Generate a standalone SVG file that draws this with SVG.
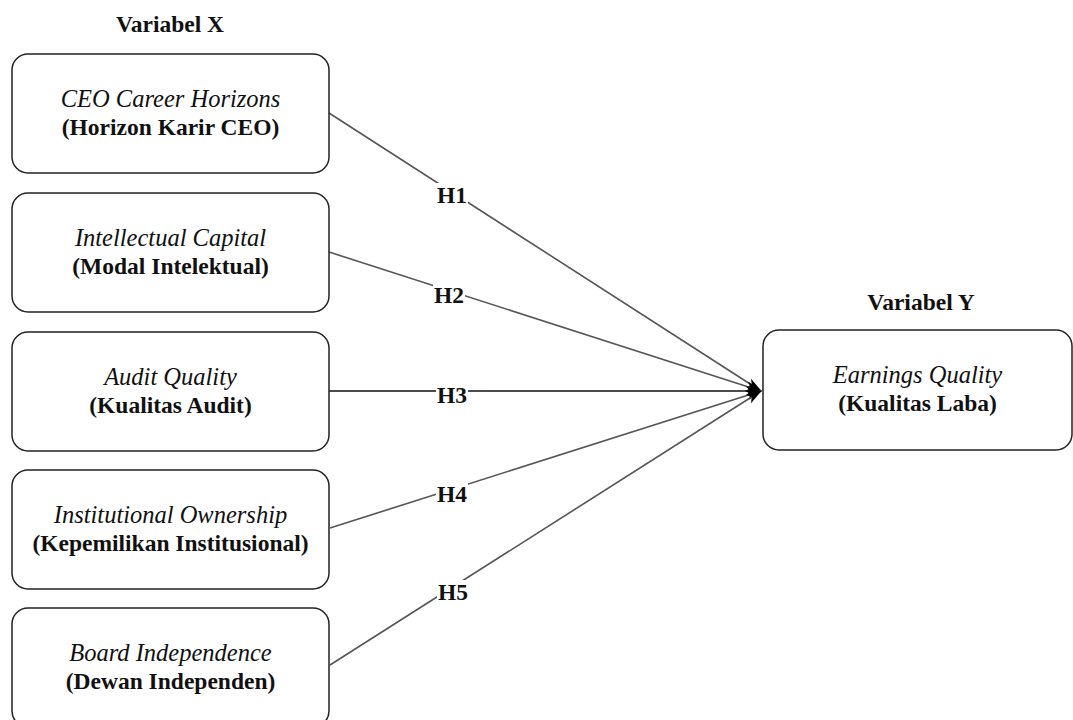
<svg xmlns="http://www.w3.org/2000/svg" width="1073" height="720" viewBox="0 0 1073 720">
<style>
text{font-family:"Liberation Serif","Times New Roman",serif;font-size:23.5px;fill:#111;text-anchor:middle}
.it{font-style:italic;font-size:24.5px}
.b{font-weight:bold}
.box{fill:#fff;stroke:#222;stroke-width:1.5}
.ln{stroke:#555;stroke-width:1.6;fill:none;marker-end:url(#ah)}
.lbbg{fill:#fff}
</style>
<defs>
<marker id="ah" viewBox="0 0 16 12" refX="15" refY="6" markerWidth="16" markerHeight="12" markerUnits="userSpaceOnUse" orient="auto">
<path d="M0,1 L16,6 L0,11 L4,6 Z" fill="#000"/>
</marker>
</defs>
<text class="b" x="170" y="32">Variabel X</text>
<text class="b" x="921" y="310">Variabel Y</text>
<g id="connectors">
<line class="ln" x1="329" y1="113" x2="761" y2="391"/>
<line class="ln" x1="329" y1="252" x2="761" y2="391"/>
<line class="ln" x1="329" y1="391" x2="761" y2="391" style="stroke:#111"/>
<line class="ln" x1="330" y1="528" x2="761" y2="391"/>
<line class="ln" x1="330" y1="665" x2="761" y2="391"/>
<rect class="lbbg" x="436" y="183" width="32" height="21"/>
<text class="b" x="452" y="203">H1</text>
<rect class="lbbg" x="433" y="283" width="32" height="21"/>
<text class="b" x="449" y="303">H2</text>
<rect class="lbbg" x="436" y="383" width="32" height="21"/>
<text class="b" x="452" y="403">H3</text>
<rect class="lbbg" x="436" y="482" width="32" height="21"/>
<text class="b" x="452" y="502">H4</text>
<rect class="lbbg" x="437" y="580" width="32" height="21"/>
<text class="b" x="453" y="600">H5</text>
</g>
<g id="n1">
<rect class="box" x="12" y="54" width="317" height="119" rx="16"/>
<text class="it" x="170.5" y="107">CEO Career Horizons</text>
<text class="b" x="170.5" y="135">(Horizon Karir CEO)</text>
</g>
<g id="n2">
<rect class="box" x="12" y="193" width="317" height="119" rx="16"/>
<text class="it" x="170.5" y="246">Intellectual Capital</text>
<text class="b" x="170.5" y="274">(Modal Intelektual)</text>
</g>
<g id="n3">
<rect class="box" x="12" y="332" width="317" height="119" rx="16"/>
<text class="it" x="170.5" y="385">Audit Quality</text>
<text class="b" x="170.5" y="413">(Kualitas Audit)</text>
</g>
<g id="n4">
<rect class="box" x="12" y="470" width="317" height="119" rx="16"/>
<text class="it" x="170.5" y="523">Institutional Ownership</text>
<text class="b" x="170.5" y="551">(Kepemilikan Institusional)</text>
</g>
<g id="n5">
<rect class="box" x="12" y="608" width="317" height="119" rx="16"/>
<text class="it" x="170.5" y="661">Board Independence</text>
<text class="b" x="170.5" y="689">(Dewan Independen)</text>
</g>
<g id="ny">
<rect class="box" x="763" y="330" width="309" height="120" rx="16"/>
<text class="it" x="917.5" y="383">Earnings Quality</text>
<text class="b" x="917.5" y="411">(Kualitas Laba)</text>
</g>
</svg>
